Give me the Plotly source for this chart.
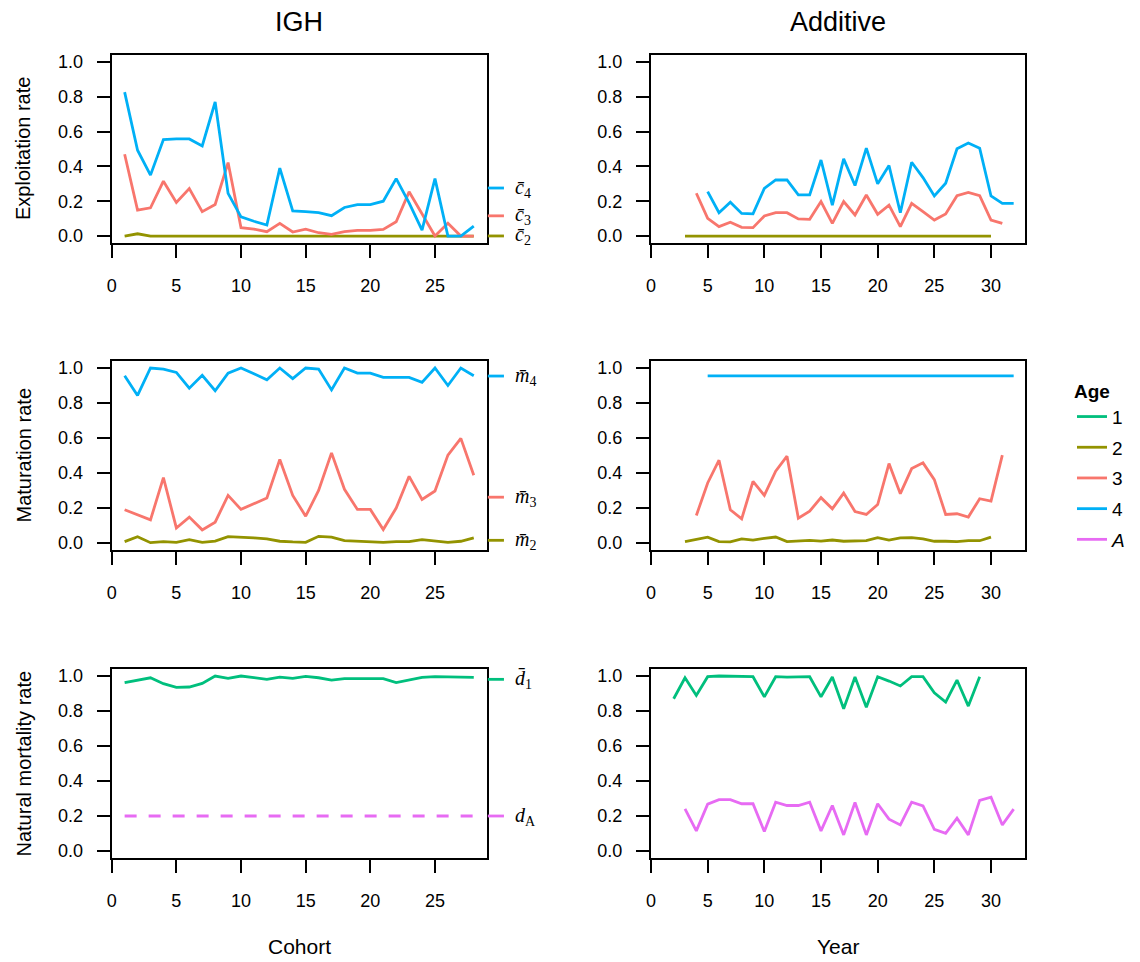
import numpy as np
import plotly.graph_objects as go

# ---------------- data ----------------
igh_x = list(range(1, 29))

c4_igh = [0.827, 0.493, 0.35, 0.554, 0.558, 0.558, 0.518, 0.77, 0.245, 0.11, 0.085, 0.063, 0.39, 0.145,
          0.14, 0.134, 0.117, 0.164, 0.181, 0.181, 0.2, 0.33, 0.19, 0.034, 0.33, 0.0, 0.0, 0.057]
c3_igh = [0.47, 0.149, 0.162, 0.315, 0.193, 0.273, 0.14, 0.181, 0.422, 0.048, 0.04, 0.025, 0.073, 0.023,
          0.04, 0.019, 0.01, 0.025, 0.032, 0.032, 0.038, 0.082, 0.254, 0.13, 0.0, 0.073, 0.0, 0.0]
c2_igh = [0.0, 0.013] + [0.0] * 26

m4_igh = [0.956, 0.843, 1.0, 0.994, 0.975, 0.885, 0.958, 0.87, 0.971, 1.0, 0.967, 0.933, 1.0, 0.939,
          1.0, 0.994, 0.875, 1.0, 0.971, 0.971, 0.946, 0.946, 0.946, 0.918, 1.0, 0.9, 1.0, 0.956]
m3_igh = [0.19, 0.161, 0.132, 0.374, 0.086, 0.148, 0.075, 0.119, 0.272, 0.192, 0.224, 0.257, 0.477, 0.272,
          0.153, 0.3, 0.515, 0.307, 0.192, 0.192, 0.077, 0.2, 0.381, 0.249, 0.297, 0.502, 0.598, 0.387]
m2_igh = [0.008, 0.036, 0.002, 0.008, 0.004, 0.019, 0.004, 0.011, 0.036, 0.034, 0.029, 0.023, 0.01, 0.006,
          0.004, 0.038, 0.033, 0.013, 0.01, 0.01, 0.004, 0.008, 0.008, 0.019, 0.011, 0.004, 0.01, 0.029]

d1_igh = [0.962, 0.977, 0.99, 0.956, 0.935, 0.937, 0.958, 1.0, 0.987, 1.0, 0.99, 0.981, 0.994, 0.987,
          0.998, 0.99, 0.977, 0.985, 0.985, 0.985, 0.985, 0.962, 0.977, 0.992, 0.996, 0.994, 0.994, 0.992]
dA_igh = [0.2] * 28

c2_add_x = list(range(3, 31))
c2_add = [0.0] * 28
c3_add_x = list(range(4, 32))
c3_add = [0.246, 0.102, 0.054, 0.079, 0.05, 0.048, 0.115, 0.134, 0.134, 0.098, 0.096, 0.198, 0.073, 0.198,
          0.121, 0.236, 0.125, 0.178, 0.054, 0.188, 0.14, 0.092, 0.127, 0.232, 0.251, 0.232, 0.092, 0.073]
c4_add_x = list(range(5, 33))
c4_add = [0.255, 0.134, 0.194, 0.13, 0.127, 0.274, 0.322, 0.322, 0.236, 0.236, 0.437, 0.178, 0.443, 0.29,
          0.505, 0.3, 0.405, 0.134, 0.424, 0.336, 0.23, 0.303, 0.501, 0.534, 0.505, 0.23, 0.188, 0.188]

m2_add_x = list(range(3, 31))
m2_add = [0.008, 0.019, 0.033, 0.008, 0.006, 0.023, 0.017, 0.027, 0.034, 0.008, 0.011, 0.015, 0.011, 0.017,
          0.01, 0.01, 0.013, 0.031, 0.017, 0.029, 0.031, 0.023, 0.01, 0.01, 0.008, 0.013, 0.013, 0.034]
m3_add_x = list(range(4, 32))
m3_add = [0.157, 0.343, 0.473, 0.19, 0.138, 0.352, 0.272, 0.41, 0.496, 0.142, 0.182, 0.259, 0.195, 0.285,
          0.18, 0.163, 0.22, 0.454, 0.282, 0.425, 0.458, 0.362, 0.163, 0.167, 0.148, 0.253, 0.239, 0.502]
m4_add_x = list(range(5, 33))
m4_add = [0.955] * 28

d1_add_x = list(range(2, 30))
d1_add = [0.87, 0.99, 0.889, 0.996, 1.0, 1.0, 1.0, 0.996, 0.881, 0.996, 0.994, 0.994, 0.996, 0.881,
          0.994, 0.813, 0.994, 0.822, 0.996, 0.971, 0.943, 0.996, 0.996, 0.904, 0.851, 0.977, 0.828, 0.996]
dA_add_x = list(range(3, 33))
dA_add = [0.241, 0.115, 0.268, 0.293, 0.293, 0.27, 0.27, 0.111, 0.279, 0.26, 0.26, 0.279, 0.115, 0.26,
          0.092, 0.277, 0.092, 0.27, 0.182, 0.149, 0.279, 0.258, 0.124, 0.101, 0.187, 0.092, 0.289, 0.308,
          0.149, 0.239]

age_labels = ["1", "2", "3", "4", "A"]
col_titles = ["IGH", "Additive"]
row_titles = ["Exploitation rate", "Maturation rate", "Natural mortality rate"]
x_titles = ["Cohort", "Year"]
y_ticks = [0.0, 0.2, 0.4, 0.6, 0.8, 1.0]

# ---------------- style ----------------
COL = {"1": "#00BF7D", "2": "#939300", "3": "#F8766D", "4": "#00B0F6", "A": "#E76BF3"}
W, H = 1140, 962
SANS = "Liberation Sans, Arial, sans-serif"
SERIF = "Liberation Serif, Times New Roman, serif"
LW = 2.8


def px_x(p):
    return p / W


def px_y(p):
    return 1 - p / H


col_dom = [(111.7, 486.7), (651.0, 1025.0)]
row_dom = [(55.0, 243.0), (361.0, 550.0), (669.0, 858.0)]
x_ranges = [[0, 29], [0, 33]]

fig = go.Figure()
layout = {}
ax_id = {}
n = 0
for r in range(3):
    for c in range(2):
        n += 1
        ax_id[(r, c)] = n
        sfx = "" if n == 1 else str(n)
        layout["xaxis" + sfx] = dict(
            domain=[px_x(col_dom[c][0]), px_x(col_dom[c][1])],
            anchor="y" + sfx, range=x_ranges[c], tickmode="linear", tick0=0, dtick=5,
            showline=True, mirror=True, linecolor="black", linewidth=2,
            ticks="outside", ticklen=13, tickwidth=2, tickcolor="black",
            showgrid=False, zeroline=False, ticklabelstandoff=12, automargin=False,
            tickfont=dict(family=SANS, size=18, color="black"))
        layout["yaxis" + sfx] = dict(
            domain=[px_y(row_dom[r][1]), px_y(row_dom[r][0])],
            anchor="x" + sfx, range=[-0.04, 1.04], tickvals=y_ticks,
            ticktext=[f"{v:.1f}" for v in y_ticks],
            showline=True, mirror=True, linecolor="black", linewidth=2,
            ticks="outside", ticklen=13, tickwidth=2, tickcolor="black",
            showgrid=False, zeroline=False, ticklabelstandoff=10, automargin=False,
            tickfont=dict(family=SANS, size=18, color="black"))


def add_line(r, c, x, y, age, dash="solid"):
    k = ax_id[(r, c)]
    sfx = "" if k == 1 else str(k)
    fig.add_trace(go.Scatter(x=x, y=y, mode="lines", xaxis="x" + sfx, yaxis="y" + sfx,
                             line=dict(color=COL[age], width=LW, dash=dash),
                             showlegend=False, hoverinfo="skip"))


# IGH column
add_line(0, 0, igh_x, c2_igh, "2")
add_line(0, 0, igh_x, c3_igh, "3")
add_line(0, 0, igh_x, c4_igh, "4")
add_line(1, 0, igh_x, m2_igh, "2")
add_line(1, 0, igh_x, m3_igh, "3")
add_line(1, 0, igh_x, m4_igh, "4")
add_line(2, 0, igh_x, d1_igh, "1")
add_line(2, 0, igh_x, dA_igh, "A", dash="12px,12px")
# Additive column
add_line(0, 1, c2_add_x, c2_add, "2")
add_line(0, 1, c3_add_x, c3_add, "3")
add_line(0, 1, c4_add_x, c4_add, "4")
add_line(1, 1, m2_add_x, m2_add, "2")
add_line(1, 1, m3_add_x, m3_add, "3")
add_line(1, 1, m4_add_x, m4_add, "4")
add_line(2, 1, d1_add_x, d1_add, "1")
add_line(2, 1, dA_add_x, dA_add, "A")

# legend entries
for i, a in enumerate(age_labels):
    fig.add_trace(go.Scatter(x=[None], y=[None], mode="lines", name=("<i>A</i>" if a == "A" else a),
                             legendgroup=a, line=dict(color=COL[a], width=LW), showlegend=True))

# mean labels at the right of IGH panels
MAC = "\u0304"
mean_labels = [
    (0, c4_igh, "4", f"<i>c{MAC}</i><sub>4</sub>"),
    (0, c3_igh, "3", f"<i>c{MAC}</i><sub>3</sub>"),
    (0, c2_igh, "2", f"<i>c{MAC}</i><sub>2</sub>"),
    (1, m4_igh, "4", f"<i>m{MAC}</i><sub>4</sub>"),
    (1, m3_igh, "3", f"<i>m{MAC}</i><sub>3</sub>"),
    (1, m2_igh, "2", f"<i>m{MAC}</i><sub>2</sub>"),
    (2, d1_igh, "1", f"<i>d{MAC}</i><sub>1</sub>"),
    (2, dA_igh, "A", "<i>d</i><sub>A</sub>"),
]
shapes = []
annotations = []
for r, vals, age, txt in mean_labels:
    k = ax_id[(r, 0)]
    sfx = "" if k == 1 else str(k)
    mv = float(np.mean(vals))
    shapes.append(dict(type="line", xref="x" + sfx + " domain", yref="y" + sfx,
                       x0=1.003, x1=1.046, y0=mv, y1=mv,
                       line=dict(color=COL[age], width=LW)))
    annotations.append(dict(xref="x" + sfx + " domain", yref="y" + sfx, x=1.072, y=mv,
                            text=txt, showarrow=False, xanchor="left", yanchor="middle",
                            borderpad=0,
                            font=dict(family=SERIF, size=20, color="black")))

# column titles, x titles, row titles
for c in range(2):
    cx = (col_dom[c][0] + col_dom[c][1]) / 2
    annotations.append(dict(xref="paper", yref="paper", x=px_x(cx), y=px_y(22), text=col_titles[c],
                            showarrow=False, xanchor="center", yanchor="middle",
                            font=dict(family=SANS, size=27, color="black")))
    annotations.append(dict(xref="paper", yref="paper", x=px_x(cx), y=px_y(946), text=x_titles[c],
                            showarrow=False, xanchor="center", yanchor="middle",
                            font=dict(family=SANS, size=21, color="black")))
for r in range(3):
    cy = (row_dom[r][0] + row_dom[r][1]) / 2
    annotations.append(dict(xref="paper", yref="paper", x=px_x(23), y=px_y(cy), text=row_titles[r],
                            showarrow=False, xanchor="center", yanchor="middle", textangle=-90,
                            font=dict(family=SANS, size=20, color="black")))

fig.update_layout(
    **layout,
    width=W, height=H,
    margin=dict(l=0, r=0, t=0, b=0, autoexpand=False),
    paper_bgcolor="white", plot_bgcolor="white",
    shapes=shapes, annotations=annotations,
    legend=dict(x=px_x(1072), y=px_y(373), xanchor="left", yanchor="top",
                title=dict(text="<b>Age</b>", font=dict(family=SANS, size=19, color="black")),
                font=dict(family=SANS, size=19, color="black"),
                traceorder="grouped", tracegroupgap=3, itemwidth=30,
                bgcolor="rgba(0,0,0,0)"),
)

fig.write_html("out.html", config={"displayModeBar": False},
               post_script="document.body.style.margin='0px';")
